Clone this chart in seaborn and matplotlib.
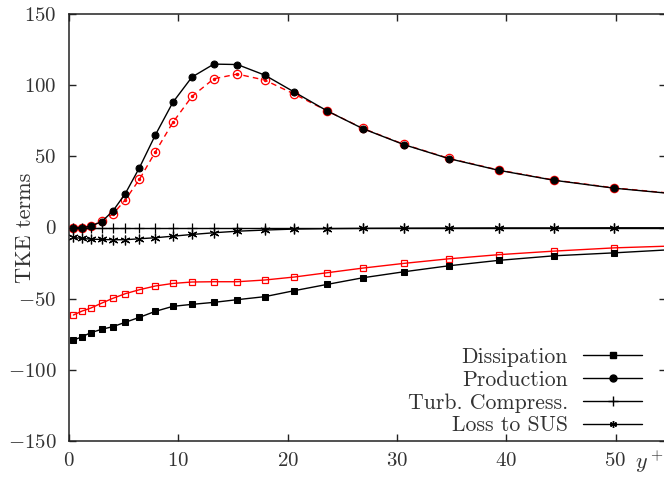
import numpy as np
import pandas as pd
import matplotlib
matplotlib.use("Agg")
import matplotlib.pyplot as plt
import seaborn as sns
from matplotlib.lines import Line2D

# Puntos de malla en y+
yplus = [0.4, 1.2, 2.0, 3.0, 4.0, 5.15, 6.45, 7.9, 9.5, 11.25, 13.25, 15.4,
         17.9, 20.6, 23.6, 26.9, 30.65, 34.75, 39.3, 44.35, 49.9, 56.0]

# Terminos de TKE (negro: un caso, rojo: el otro)
prod_k = [0.0, 0.0, 0.9, 4.2, 11.4, 23.8, 42.1, 65.0, 87.9, 105.7, 114.8, 114.5,
          107.1, 95.2, 82.0, 69.4, 58.2, 48.4, 40.2, 33.2, 27.6, 23.2]
prod_r = [0.0, 0.0, 0.9, 4.6, 9.3, 19.4, 33.9, 53.1, 73.8, 92.1, 104.5, 107.8,
          103.6, 93.8, 82.0, 69.6, 58.4, 48.6, 40.4, 33.4, 27.8, 23.4]
diss_k = [-79.2, -76.7, -73.9, -71.5, -69.7, -66.6, -63.1, -58.9, -55.4, -54.0,
          -52.6, -50.7, -48.6, -44.4, -40.0, -35.3, -31.1, -26.9, -23.1, -19.9,
          -17.8, -15.2]
diss_r = [-61.5, -58.7, -56.6, -53.1, -49.8, -46.5, -43.7, -41.1, -39.3, -38.3,
          -38.1, -38.1, -36.9, -34.8, -31.8, -28.5, -25.2, -22.0, -19.1, -16.6,
          -14.3, -12.8]
turb_k = [0.0] * 22
sus_k = [-7.0, -7.7, -8.2, -8.4, -8.6, -8.6, -7.9, -7.2, -6.1, -4.9, -3.7,
         -2.6, -1.8, -1.1, -0.8, -0.6, -0.5, -0.4, -0.3, -0.3, -0.2, -0.2]

df = pd.DataFrame({"yplus": yplus, "prod_k": prod_k, "prod_r": prod_r,
                   "diss_k": diss_k, "diss_r": diss_r, "turb_k": turb_k,
                   "sus_k": sus_k})

sns.set_style("ticks")
plt.rcParams["font.family"] = ["cmr10"]
plt.rcParams["mathtext.fontset"] = "cm"
plt.rcParams["axes.formatter.use_mathtext"] = True
plt.rcParams["font.size"] = 15

fig = plt.figure(figsize=(6.64, 4.79), dpi=100)
W, H = 664, 479
ax = fig.add_axes([69 / W, 38 / H, (666 - 69) / W, 427 / H])

lw = 1.0
# casos en rojo
sns.lineplot(data=df, x="yplus", y="diss_r", ax=ax, color="red", lw=lw,
             marker="s", markersize=4.5, markerfacecolor="none",
             markeredgecolor="red", markeredgewidth=0.9)
sns.lineplot(data=df, x="yplus", y="prod_r", ax=ax, color="red", lw=lw,
             dashes=(4, 3), marker="o", markersize=6, markerfacecolor="none",
             markeredgecolor="red", markeredgewidth=0.9)
ax.plot(df["yplus"], df["prod_r"], ls="none", marker="o", markersize=1.5,
        color="red")

# casos en negro
sns.lineplot(data=df, x="yplus", y="diss_k", ax=ax, color="black", lw=lw,
             marker="s", markersize=4.5, markeredgecolor="black")
sns.lineplot(data=df, x="yplus", y="prod_k", ax=ax, color="black", lw=lw,
             marker="o", markersize=5, markeredgecolor="black")
sns.lineplot(data=df, x="yplus", y="turb_k", ax=ax, color="black", lw=lw,
             marker="+", markersize=7, markeredgewidth=0.9,
             markeredgecolor="black")
sns.lineplot(data=df, x="yplus", y="sus_k", ax=ax, color="black", lw=lw,
             marker=(6, 2, 0), markersize=7, markeredgewidth=0.9,
             markeredgecolor="black")

ax.set_xlim(0, (666 - 69) / 10.93)
ax.set_ylim(-150, 150)
ax.set_xticks([0, 10, 20, 30, 40, 50])
ax.set_yticks([-150, -100, -50, 0, 50, 100, 150])
ax.tick_params(direction="in", length=5, width=1, top=True, right=True,
               color="#222222", labelcolor="#333333")
ax.tick_params(axis="x", pad=8)
ax.tick_params(axis="y", pad=9)
for s in ax.spines.values():
    s.set_linewidth(1.1)
    s.set_color("#222222")

ax.set_xlabel("")
ax.set_ylabel("TKE terms", color="#333333", fontsize=16)
ax.yaxis.set_label_coords((35 - 69) / 597, (441 - 228) / 427)
fig.text(649 / W, 1 - 462 / H, r"$y^+$", ha="center", va="center",
         fontsize=16, color="#333333")

handles = [
    Line2D([], [], color="black", lw=lw, marker="s", markersize=4.5),
    Line2D([], [], color="black", lw=lw, marker="o", markersize=5),
    Line2D([], [], color="black", lw=lw, marker="+", markersize=7),
    Line2D([], [], color="black", lw=lw, marker=(6, 2, 0), markersize=5),
]
labels = ["Dissipation", "Production", "Turb. Compress.", "Loss to SUS"]
leg = ax.legend(handles, labels, loc="lower right", frameon=False,
                markerfirst=False, bbox_to_anchor=((642 - 69) / 597, 0.013),
                borderaxespad=0, borderpad=0, labelspacing=0.15,
                handlelength=2.7, handletextpad=0.69, fontsize=15.7)
for t in leg.get_texts():
    t.set_color("#333333")

fig.savefig("out.png", dpi=100)
